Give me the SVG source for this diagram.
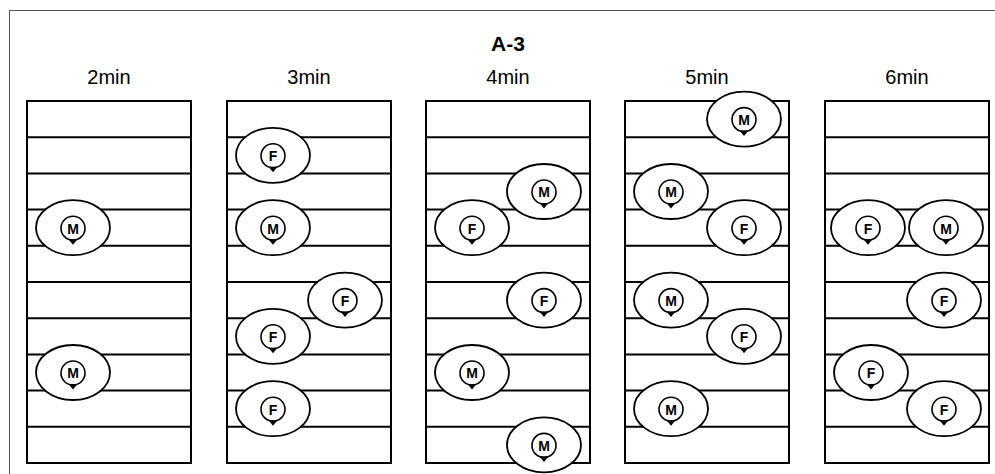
<svg xmlns="http://www.w3.org/2000/svg" width="995" height="474" viewBox="0 0 995 474">
<style>
.frame{fill:none;stroke:#555;stroke-width:1}
.panel{fill:#fff;stroke:#000;stroke-width:2}
.rule{stroke:#000;stroke-width:2}
.title{font-family:"Liberation Sans",Arial,sans-serif;font-size:21px;font-weight:bold;text-anchor:middle;fill:#000}
.head{font-family:"Liberation Sans",Arial,sans-serif;font-size:20px;text-anchor:middle;fill:#000}
.tok{fill:#fff;stroke:#000;stroke-width:1.8}
.pin{fill:#fff;stroke:#000;stroke-width:1.6}
.tip{fill:#000}
.lbl{font-family:"Liberation Sans",Arial,sans-serif;font-size:14px;font-weight:bold;text-anchor:middle;fill:#000}
</style>
<defs>
<g id="token">
<ellipse class="tok" cx="0" cy="0" rx="37" ry="27.5"/>
<circle class="pin" cx="0" cy="0.5" r="12"/>
<path class="tip" d="M-4.5,11.5 L4.5,11.5 L0,17 Z"/>
</g>
<g id="grid">
<rect class="panel" x="0" y="0" width="164" height="362"/>
<path class="rule" d="M0,36.2H164M0,72.4H164M0,108.6H164M0,144.8H164M0,181H164M0,217.2H164M0,253.4H164M0,289.6H164M0,325.8H164"/>
</g>
</defs>
<rect class="frame" x="9.5" y="10.5" width="1000" height="480"/>
<text class="title" x="508" y="51">A-3</text>

<g id="panel-2min">
<text class="head" x="109" y="84">2min</text>
<use href="#grid" x="27" y="101"/>
<g id="p1-m1"><use href="#token" x="73" y="227.7"/><text class="lbl" x="73" y="233.5">M</text></g>
<g id="p1-m2"><use href="#token" x="73" y="372.5"/><text class="lbl" x="73" y="378.3">M</text></g>
</g>

<g id="panel-3min">
<text class="head" x="309" y="84">3min</text>
<use href="#grid" x="227" y="101"/>
<g id="p2-f1"><use href="#token" x="273" y="155.3"/><text class="lbl" x="273" y="161.1">F</text></g>
<g id="p2-m1"><use href="#token" x="273" y="227.7"/><text class="lbl" x="273" y="233.5">M</text></g>
<g id="p2-f2"><use href="#token" x="345" y="300.1"/><text class="lbl" x="345" y="305.9">F</text></g>
<g id="p2-f3"><use href="#token" x="273" y="336.3"/><text class="lbl" x="273" y="342.1">F</text></g>
<g id="p2-f4"><use href="#token" x="273" y="408.7"/><text class="lbl" x="273" y="414.5">F</text></g>
</g>

<g id="panel-4min">
<text class="head" x="508" y="84">4min</text>
<use href="#grid" x="426" y="101"/>
<g id="p3-m1"><use href="#token" x="544" y="191.5"/><text class="lbl" x="544" y="197.3">M</text></g>
<g id="p3-f1"><use href="#token" x="472" y="227.7"/><text class="lbl" x="472" y="233.5">F</text></g>
<g id="p3-f2"><use href="#token" x="544" y="300.1"/><text class="lbl" x="544" y="305.9">F</text></g>
<g id="p3-m2"><use href="#token" x="472" y="372.5"/><text class="lbl" x="472" y="378.3">M</text></g>
<g id="p3-m3"><use href="#token" x="544" y="444.9"/><text class="lbl" x="544" y="450.7">M</text></g>
</g>

<g id="panel-5min">
<text class="head" x="707" y="84">5min</text>
<use href="#grid" x="625" y="101"/>
<g id="p4-m1"><use href="#token" x="744" y="119.1"/><text class="lbl" x="744" y="124.9">M</text></g>
<g id="p4-m2"><use href="#token" x="671" y="191.5"/><text class="lbl" x="671" y="197.3">M</text></g>
<g id="p4-f1"><use href="#token" x="744" y="227.7"/><text class="lbl" x="744" y="233.5">F</text></g>
<g id="p4-m3"><use href="#token" x="671" y="300.1"/><text class="lbl" x="671" y="305.9">M</text></g>
<g id="p4-f2"><use href="#token" x="744" y="336.3"/><text class="lbl" x="744" y="342.1">F</text></g>
<g id="p4-m4"><use href="#token" x="671" y="408.7"/><text class="lbl" x="671" y="414.5">M</text></g>
</g>

<g id="panel-6min">
<text class="head" x="907" y="84">6min</text>
<use href="#grid" x="825" y="101"/>
<g id="p5-f1"><use href="#token" x="868" y="227.7"/><text class="lbl" x="868" y="233.5">F</text></g>
<g id="p5-m1"><use href="#token" x="946" y="227.7"/><text class="lbl" x="946" y="233.5">M</text></g>
<g id="p5-f2"><use href="#token" x="944" y="300.1"/><text class="lbl" x="944" y="305.9">F</text></g>
<g id="p5-f3"><use href="#token" x="871" y="372.5"/><text class="lbl" x="871" y="378.3">F</text></g>
<g id="p5-f4"><use href="#token" x="944" y="408.7"/><text class="lbl" x="944" y="414.5">F</text></g>
</g>
</svg>
